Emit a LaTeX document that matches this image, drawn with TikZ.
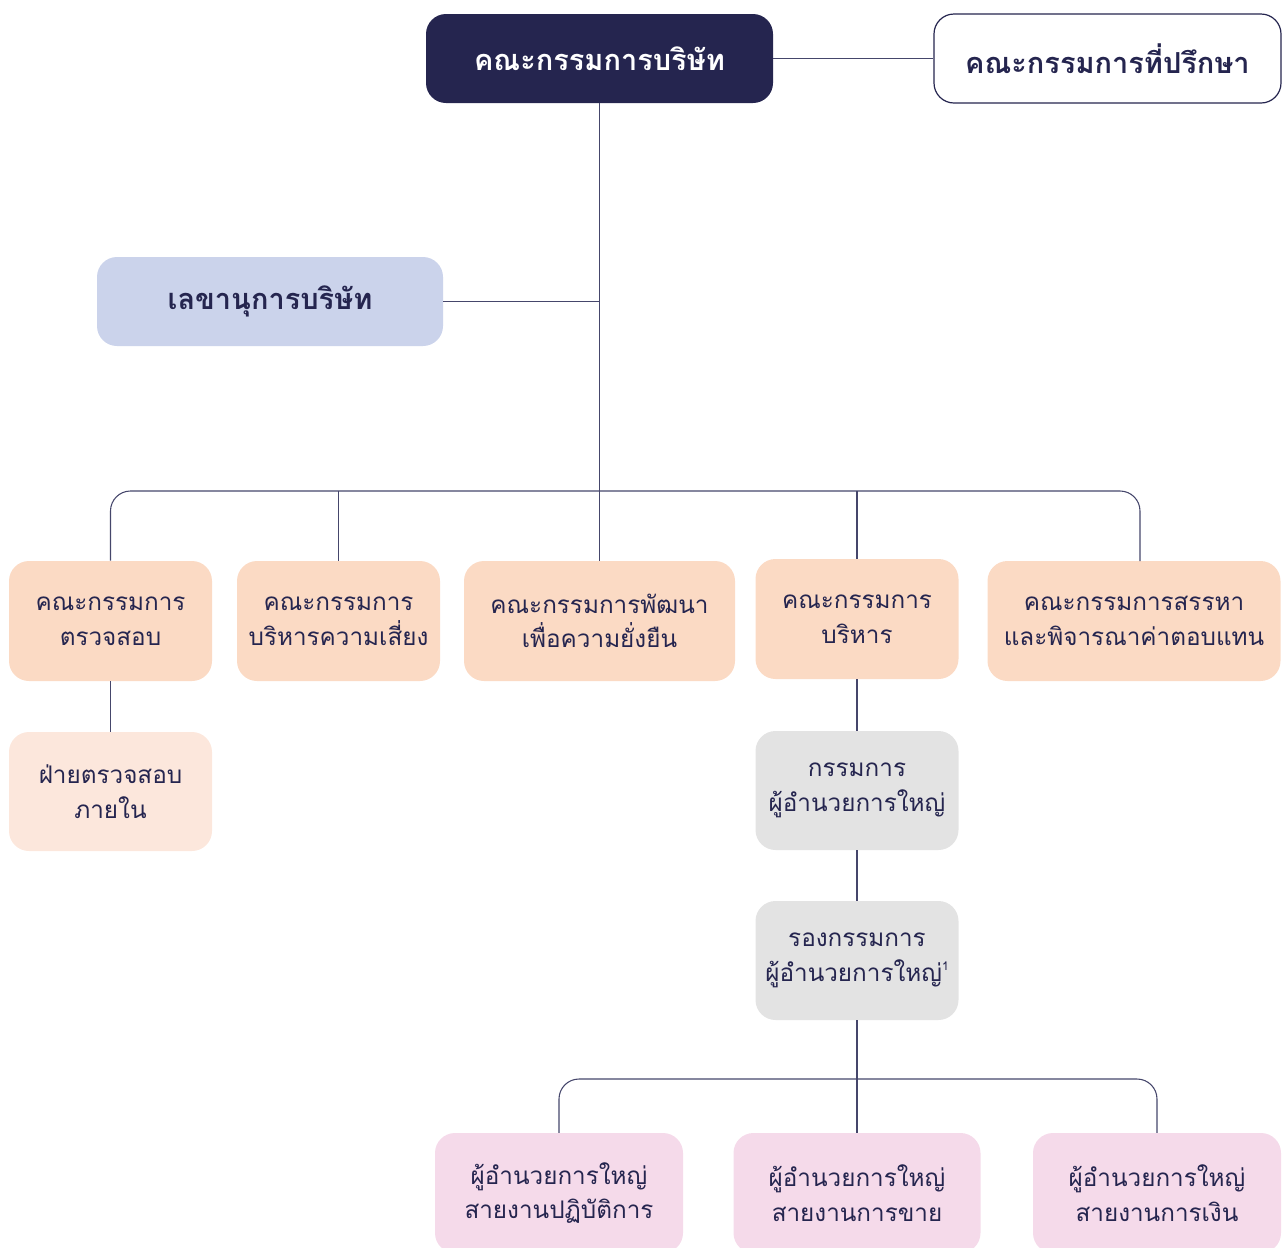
\documentclass[tikz,border=0pt]{standalone}
\usepackage{fontspec}
\newfontfamily\thai[Script=Thai]{Loma}
\usetikzlibrary{calc}
\definecolor{navy}{HTML}{25254F}
\definecolor{linec}{HTML}{45466B}
\definecolor{lav}{HTML}{CBD3EB}
\definecolor{peach}{HTML}{FBDAC4}
\definecolor{peachl}{HTML}{FCE7DC}
\definecolor{greyb}{HTML}{E3E3E3}
\definecolor{pinkb}{HTML}{F5DAEA}
\tikzset{
  sz/.style 2 args={minimum width=#1*0.75pt, minimum height=#2*0.75pt},
  base/.style={rectangle, rounded corners=15pt, inner sep=0pt, align=center,
     font=\thai\fontsize{18.2}{26}\selectfont, text=navy},
  topbox/.style={base, font=\thai\bfseries\fontsize{21.7}{26}\selectfont},
  boardbox/.style={topbox, fill=navy, text=white},
  advbox/.style={topbox, fill=white, draw=navy, line width=0.9pt},
  secbox/.style={topbox, fill=lav},
  combox/.style={base, fill=peach},
  audbox/.style={base, fill=peachl},
  exebox/.style={base, fill=greyb},
  divbox/.style={base, fill=pinkb},
  conn/.style={draw=linec, line width=0.8pt},
}
\begin{document}
\begin{tikzpicture}[x=0.75pt,y=-0.75pt]
\useasboundingbox (0,0) rectangle (1282,1247);
% top
\node[boardbox, sz={347}{89}] (board) at (599.5,58.5) {คณะกรรมการบริษัท};
\node[advbox, sz={347}{89}] (adv) at (1107.5,58.5) {คณะกรรมการที่ปรึกษา};
\node[secbox, sz={346}{89}] (sec) at (270,301.5) {เลขานุการบริษัท};
% committees
\node[combox, sz={203}{120}] (c1) at (110.5,621) {คณะกรรมการ\\ตรวจสอบ};
\node[combox, sz={203}{120}] (c2) at (338.5,621) {คณะกรรมการ\\บริหารความเสี่ยง};
\node[combox, sz={271}{120}] (c3) at (599.5,621) {คณะกรรมการพัฒนา\\เพื่อความยั่งยืน};
\node[combox, sz={203}{120}] (c4) at (857,619) {คณะกรรมการ\\บริหาร};
\node[combox, sz={293}{120}] (c5) at (1134,621) {คณะกรรมการสรรหา\\และพิจารณาค่าตอบแทน};
\node[audbox, sz={203}{119}] (aud) at (110.5,791.5) {ฝ่ายตรวจสอบ\\ภายใน};
\node[exebox, sz={203}{119}] (ceo) at (857,790.5) {กรรมการ\\ผู้อำนวยการใหญ่};
\node[exebox, sz={203}{119}] (vp) at (857,960.5) {รองกรรมการ\\ผู้อำนวยการใหญ่\raisebox{0.9ex}{\fontsize{9}{9}\selectfont 1}};
\node[divbox, sz={248}{120}] (p1) at (559,1193) {ผู้อำนวยการใหญ่\\สายงานปฏิบัติการ};
\node[divbox, sz={247}{120}] (p2) at (857,1193) {ผู้อำนวยการใหญ่\\สายงานการขาย};
\node[divbox, sz={248}{120}] (p3) at (1157,1193) {ผู้อำนวยการใหญ่\\สายงานการเงิน};
% helper coordinates
\coordinate (bus1) at (599.5,491);
\coordinate (c5top) at (1140,561);
\coordinate (bus2) at (857,1079);
% connectors
\draw[conn] (board.east) -- (adv.west);
\draw[conn] (board.south) -- (c3.north);
\draw[conn] (sec.east) -- (sec.east -| board.south);
\draw[conn, rounded corners=15pt] (c1.north) |- (bus1) -| (c5top);
\draw[conn] (c2.north) -- (c2.north |- bus1);
\draw[conn] (c4.north) -- (c4.north |- bus1);
\draw[conn] (c1.south) -- (aud.north);
\draw[conn] (c4.south) -- (ceo.north);
\draw[conn] (ceo.south) -- (vp.north);
\draw[conn] (vp.south) -- (p2.north);
\draw[conn, rounded corners=15pt] (p1.north) |- (bus2) -| (p3.north);
\end{tikzpicture}
\end{document}
